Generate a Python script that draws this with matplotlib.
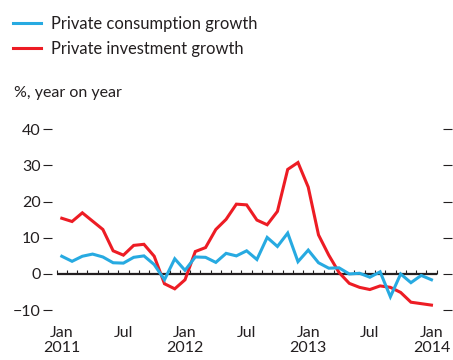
import matplotlib
matplotlib.use("Agg")
import matplotlib.pyplot as plt
import numpy as np

# Monthly data, Jan 2011 .. Jan 2014
consumption = [4.9, 3.5, 4.9, 5.5, 4.7, 3.1, 3.0, 4.6, 5.0, 2.6, -1.6, 4.2, 1.0,
               4.7, 4.6, 3.2, 5.7, 5.0, 6.4, 4.0, 10.1, 7.6, 11.3, 3.4, 6.6,
               3.1, 1.6, 1.7, 0.0, 0.2, -0.9, 0.6, -6.3, 0.0, -2.4, -0.4, -1.6]
investment = [15.4, 14.5, 16.9, 14.6, 12.3, 6.4, 5.2, 7.9, 8.2, 4.9, -2.7, -4.1, -1.6,
              6.2, 7.3, 12.3, 15.1, 19.3, 19.1, 14.9, 13.6, 17.3, 28.9, 30.8, 24.0,
              10.8, 5.2, 0.4, -2.6, -3.7, -4.3, -3.3, -3.7, -5.1, -7.8, -8.2, -8.6]
tick_pos = [0, 6, 12, 18, 24, 30, 36]
tick_labels = ["Jan\n2011", "Jul", "Jan\n2012", "Jul", "Jan\n2013", "Jul", "Jan\n2014"]
y_ticks = [-10, 0, 10, 20, 30, 40]
y_labels = ["\u221210", "0", "10", "20", "30", "40"]

BLUE = "#27aae1"
RED = "#ed1c24"
INK = "#231f20"

plt.rcParams['font.family'] = ['Lato', 'DejaVu Sans']

W, H = 453, 360
fig = plt.figure(figsize=(W / 100, H / 100), dpi=100)
ax = fig.add_axes([43 / W, 1 - 317.4 / H, (452 - 43) / W, (317.4 - 122) / H])

months = np.arange(len(consumption))
n = len(consumption)

# zero line with month ticks
ax.plot([-0.5, n - 0.5], [0, 0], color=INK, lw=1.6, zorder=1, solid_capstyle='butt')
ax.vlines(np.arange(n + 1) - 0.5, 0, 1.15, color=INK, lw=0.8, zorder=1)

ax.plot(months, consumption, color=BLUE, lw=2.2, zorder=3, label="Private consumption growth",
        solid_joinstyle='miter')
ax.plot(months, investment, color=RED, lw=2.2, zorder=2, label="Private investment growth",
        solid_joinstyle='miter')

ax.set_xlim(-1.83, 38.0)
ax.set_ylim(-12, 42)

for s in ax.spines.values():
    s.set_visible(False)

ax.set_yticks(y_ticks, y_labels)
ax.tick_params(axis='y', direction='in', length=6.5, width=0.8, color=INK,
               left=True, right=True, labelleft=True, labelright=False,
               pad=1.8, labelsize=11.5, labelcolor=INK)
ax.set_xticks(tick_pos, tick_labels)
ax.tick_params(axis='x', length=0, pad=6, labelsize=11.5, labelcolor=INK)
for lab in ax.get_xticklabels():
    lab.set_linespacing(1.15)

leg = fig.legend(loc='upper left', bbox_to_anchor=(13 / W, 1 - 16 / H), frameon=False,
                 fontsize=11.9, handlelength=1.7, handletextpad=0.6, labelspacing=0.55,
                 borderpad=0, borderaxespad=0)
for t in leg.get_texts():
    t.set_color(INK)

fig.text(14 / W, 1 - 93 / H, "%, year on year", fontsize=11.5, color=INK,
         ha='left', va='center')

fig.savefig("out.png", dpi=100)
